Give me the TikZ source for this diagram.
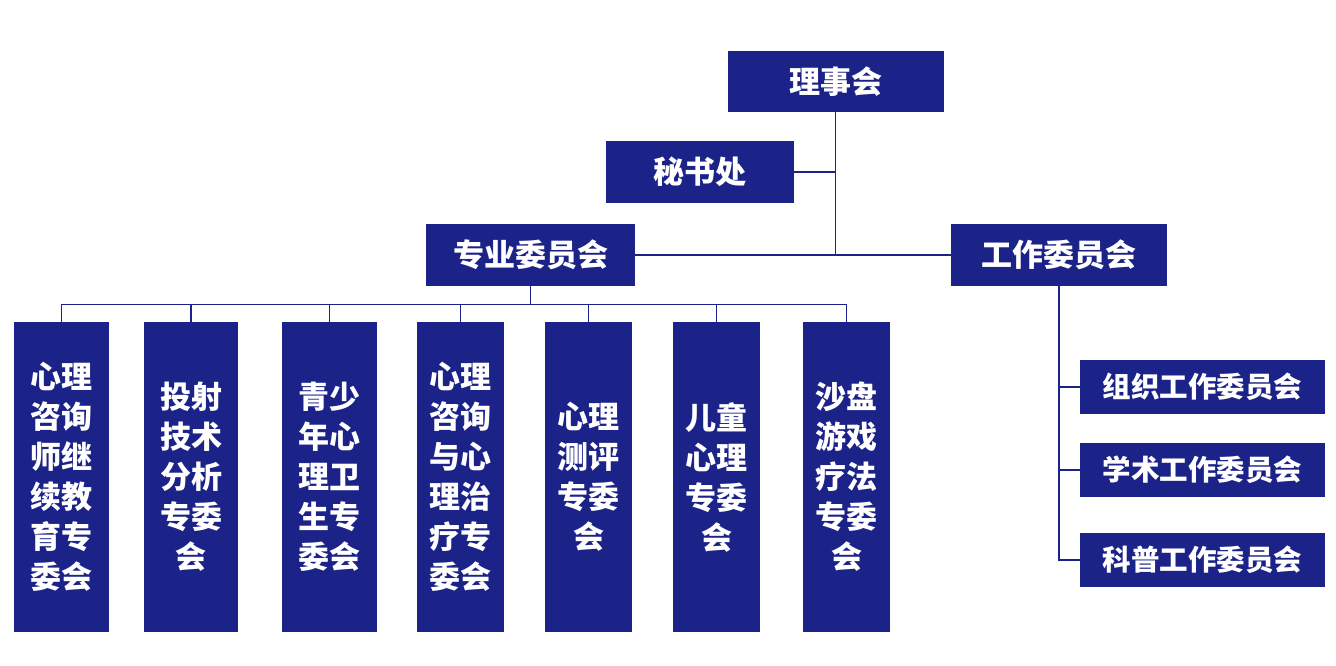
\documentclass[tikz,border=0pt]{standalone}
\usepackage{fontspec}
\newfontfamily\cjk{Noto Sans CJK SC}
\definecolor{navy}{RGB}{28,35,136}
\begin{document}
\begin{tikzpicture}[x=1pt,y=1pt,yscale=-1,xscale=1,
    orgbox/.style={fill=navy, text=white, inner sep=0pt, align=center,
        font=\cjk\bfseries\fontsize{31}{40}\selectfont},
    sidebox/.style={orgbox, minimum width=245pt, minimum height=54pt,
        font=\cjk\bfseries\fontsize{28.5}{34}\selectfont},
    tallbox/.style={orgbox, minimum height=310pt},
    link/.style={draw=navy, line width=1.2pt}]
    \useasboundingbox (0,0) rectangle (1336,665);
    % Top level
    \node[orgbox, minimum width=216pt, minimum height=61pt] (board) at (835.5,81.5) {理事会};
    \node[orgbox, minimum width=188pt, minimum height=62pt] (secretary) at (700,172) {秘书处};
    \node[orgbox, minimum width=209pt, minimum height=62pt] (special) at (530.5,255) {专业委员会};
    \node[orgbox, minimum width=216pt, minimum height=62pt] (working) at (1059,255) {工作委员会};
    % Special committees
    \node[tallbox, minimum width=95pt] (sp1) at (61.5,477) {心理\\咨询\\师继\\续教\\育专\\委会};
    \node[tallbox, minimum width=94pt] (sp2) at (191,477) {投射\\技术\\分析\\专委\\会};
    \node[tallbox, minimum width=95pt] (sp3) at (329.5,477) {青少\\年心\\理卫\\生专\\委会};
    \node[tallbox, minimum width=87pt] (sp4) at (460.5,477) {心理\\咨询\\与心\\理治\\疗专\\委会};
    \node[tallbox, minimum width=87pt] (sp5) at (588.5,477) {心理\\测评\\专委\\会};
    \node[tallbox, minimum width=87pt] (sp6) at (716.5,477) {儿童\\心理\\专委\\会};
    \node[tallbox, minimum width=87pt] (sp7) at (846.5,477) {沙盘\\游戏\\疗法\\专委\\会};
    % Working committees
    \node[sidebox] (wk1) at (1202.5,387) {组织工作委员会};
    \node[sidebox] (wk2) at (1202.5,470) {学术工作委员会};
    \node[sidebox] (wk3) at (1202.5,560) {科普工作委员会};
    % Connectors
    \coordinate (hub) at (board.south |- special.east);
    \draw[link] (board.south) -- (hub);
    \draw[link] (secretary.east) -- (secretary.east -| board.south);
    \draw[link] (special.east) -- (working.west);
    \foreach \i in {1,...,7}
        \draw[link] (special.south) -- ++(0,18) -| (sp\i.north);
    \foreach \i in {1,2,3}
        \draw[link] (working.south) |- (wk\i.west);
\end{tikzpicture}
\end{document}
